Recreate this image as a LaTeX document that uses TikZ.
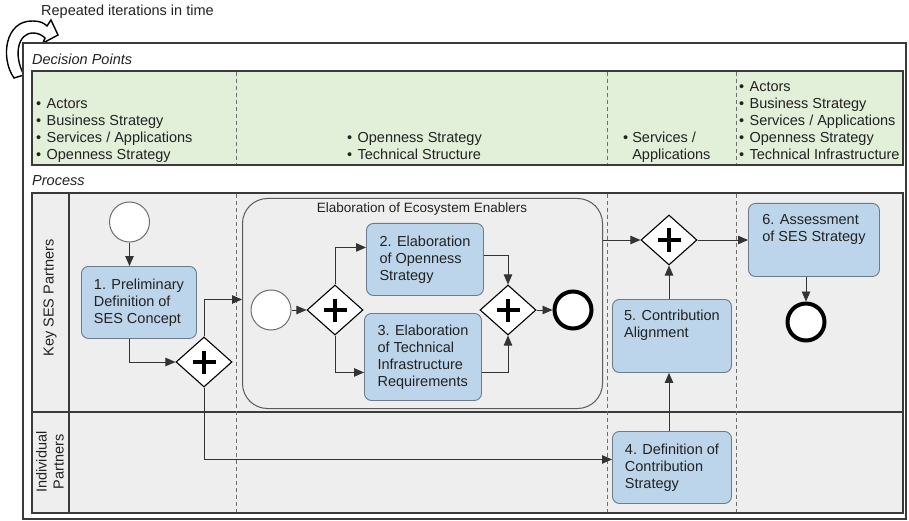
\documentclass[tikz,border=0pt]{standalone}
\usepackage{fontspec}
\setmainfont{Liberation Sans}
\usetikzlibrary{shapes.geometric,arrows.meta,calc}

\definecolor{ink}{HTML}{222222}
\definecolor{frameline}{HTML}{3A3A3A}
\definecolor{greenfill}{HTML}{E2EFD9}
\definecolor{lanefill}{HTML}{EEEEEE}
\definecolor{taskfill}{HTML}{BDD5EA}
\definecolor{taskline}{HTML}{6B7B8C}
\definecolor{flowline}{HTML}{333333}
\definecolor{divider}{HTML}{6E6E6E}
\definecolor{subline}{HTML}{5A5A5A}

% extra depth that lifts the text of a task towards its top edge
\newcommand{\liftpad}{\rule[-24pt]{0pt}{24pt}}
% list bullet with its gap
\newcommand{\bul}{•\hspace{0.37em}}

\tikzset{
  txt/.style={font=\fontsize{14.5}{17}\selectfont, text=ink, inner sep=0pt, align=left},
  heading/.style={txt, font=\fontsize{14.5}{17}\selectfont\itshape, anchor=west},
  task/.style={txt, draw=taskline, fill=taskfill, rounded corners=7pt, line width=0.9pt, anchor=north west},
  gate/.style={diamond, draw=black, fill=white, line width=1.1pt, minimum width=56pt, minimum height=50pt, inner sep=0pt,
    path picture={\draw[line width=3.6pt, black]
      ([xshift=-11.5pt]path picture bounding box.center) -- ([xshift=11.5pt]path picture bounding box.center)
      ([yshift=-11.5pt]path picture bounding box.center) -- ([yshift=11.5pt]path picture bounding box.center);}},
  startev/.style={circle, draw=divider, fill=white, line width=1pt, minimum size=40pt, inner sep=0pt},
  endev/.style={circle, draw=black, fill=white, line width=4pt, minimum size=37pt, inner sep=0pt},
  flow/.style={draw=flowline, line width=0.9pt, -{Triangle[length=10pt,width=8.5pt]}},
  border/.style={draw=frameline, line width=1.4pt},
  divline/.style={draw=divider, line width=0.8pt, dash pattern=on 4pt off 3pt}
}

\begin{document}
\begin{tikzpicture}[x=1pt, y=-1pt]
\useasboundingbox (0,0) rectangle (909,521);

% curved "repeat" block arrow
\draw[fill=white, draw=black, line width=1.4pt, line join=miter]
  (14,78) .. controls (0,58) and (5,20) .. (33,21) .. controls (40,21) and (44,23) .. (47,26)
  -- (51,20) -- (58,35) -- (43,43) -- (45,38)
  .. controls (42,35) and (38,33) .. (33,33) .. controls (18,33) and (13,55) .. (24,75) -- cycle;

% outer frame
\draw[border, fill=white] (23,43) rectangle (906,519);
\node[txt, anchor=west] (iter) at (41,12) {Repeated iterations in time};

% decision points band
\node[heading] (dph) at (32,59) {Decision Points};
\draw[border, fill=greenfill] (32,71) rectangle (903,165);
\foreach \xx in {236,607,736} \draw[divline] (\xx,71.7) -- (\xx,164.3);
\node[txt, anchor=south west] (dp1) at (36,163)
  {\bul Actors\\\bul Business Strategy\\\bul Services / Applications\\\bul Openness Strategy};
\node[txt, anchor=south west] (dp2) at (347,160)
  {\bul Openness Strategy\\\bul Technical Structure};
\node[txt, anchor=south west] (dp3) at (623,163)
  {•~Services /\\\hphantom{•~}Applications};
\node[txt, anchor=south west] (dp4) at (739,160)
  {\bul Actors\\\bul Business Strategy\\\bul Services / Applications\\\bul Openness Strategy\\\bul Technical Infrastructure};

% process pool with two lanes
\node[heading] (proch) at (32,181) {Process};
\draw[border, fill=lanefill] (32,193) rectangle (903,513);
\draw[border] (69,193) -- (69,513);
\draw[border] (32,412) -- (903,412);
\foreach \xx in {236,607,736} \draw[divline] (\xx,193.7) -- (\xx,512.3);
\node[txt, rotate=90, align=center] (lane1) at (50,298) {Key SES Partners};
\node[txt, rotate=90, align=center] (lane2) at (50,462) {Individual\\Partners};

% sub-process
\node[draw=subline, fill=lanefill, line width=1pt, rounded corners=25pt, anchor=north west,
      minimum width=360pt, minimum height=210pt, inner sep=0pt] (sub) at (242,198) {};
\node[txt, font=\fontsize{13.5}{16}\selectfont] (subt) at (422,209) {Elaboration of Ecosystem Enablers};

% events, tasks and gateways
\node[startev] (s1) at (129.5,222) {};
\node[task, minimum width=115pt, minimum height=72pt] (t1) at (81,266)
  {1. Preliminary\\Definition of\\SES Concept};
\node[gate] (g1) at (204,362) {};

\node[startev] (s2) at (271,310) {};
\node[gate] (g2) at (335,310) {};
\node[task, minimum width=117pt, minimum height=72pt] (t2) at (366,223)
  {2. Elaboration\\of Openness\\Strategy};
\node[task, minimum width=117pt, minimum height=87pt] (t3) at (364,313)
  {3. Elaboration\\of Technical\\Infrastructure\\Requirements};
\node[gate] (g3) at (508,310) {};
\node[endev] (e2) at (573,310) {};

\node[gate] (g4) at (669,240) {};
\node[task, minimum width=131pt, minimum height=73pt] (t6) at (748,203)
  {6. Assessment\\of SES Strategy\liftpad};
\node[endev] (e6) at (806,322) {};
\node[task, minimum width=119pt, minimum height=73pt] (t5) at (612,299)
  {5. Contribution\\Alignment\liftpad};
\node[task, minimum width=119pt, minimum height=72pt] (t4) at (612,431)
  {4. Definition of\\Contribution\\Strategy};

% sequence flows
\draw[flow] (s1.south) -- (s1.south |- t1.north);
\draw[flow] (s1 |- t1.south) |- (g1.west);
\draw[flow] (g1.north) |- ([yshift=4pt]sub.west);
\draw[flow] (g1.south) |- ([yshift=8pt]t4.west);
\draw[flow] (s2) -- (g2);
\draw[flow] (g2.north) |- ([yshift=12pt]t2.west);
\draw[flow] (g2.south) |- ([yshift=-15.5pt]t3.west);
\draw[flow] ([yshift=4pt]t2.east) -| (g3.north);
\draw[flow] ([yshift=-15.5pt]t3.east) -| (g3.south);
\draw[flow] (g3) -- (e2);
\draw[flow] (g4.west -| sub.east) -- (g4.west);
\draw[flow] (g4.east) -- (g4.east -| t6.west);
\draw[flow] (e6 |- t6.south) -- (e6.north);
\draw[flow] (g4 |- t5.north) -- (g4.south);
\draw[flow] (g4 |- t4.north) -- (g4 |- t5.south);
\end{tikzpicture}
\end{document}
